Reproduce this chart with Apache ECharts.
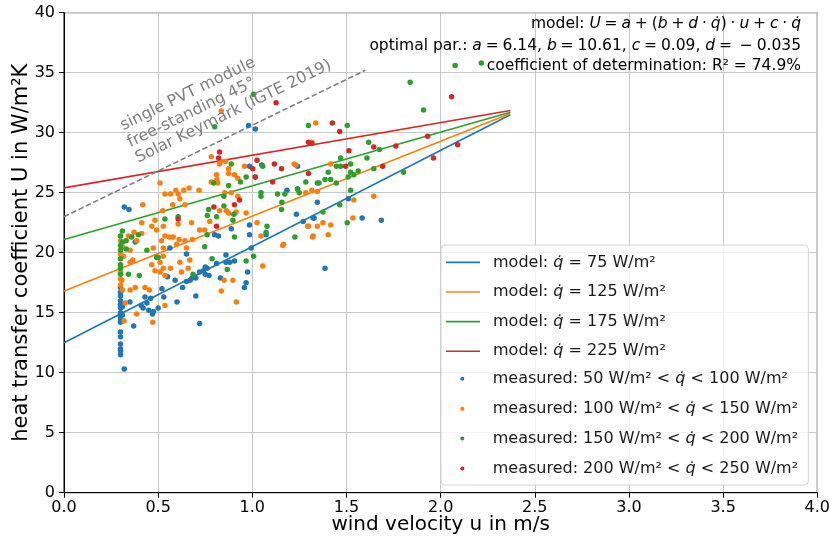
<!DOCTYPE html>
<html><head><meta charset="utf-8">
<script src="https://cdn.jsdelivr.net/npm/echarts/dist/echarts.min.js"></script>
<style>html,body{margin:0;padding:0;background:#fff}#c{width:830px;height:541px}</style>
</head><body><div id="c"></div>
<script>
// ---------- data ----------
const xAxisName = 'wind velocity u in m/s';
const yAxisName = 'heat transfer coefficient U in W/m\u00b2K';

const modelNames = [
  'model: q\u0307 = 75 W/m\u00b2',
  'model: q\u0307 = 125 W/m\u00b2',
  'model: q\u0307 = 175 W/m\u00b2',
  'model: q\u0307 = 225 W/m\u00b2'
];
const measNames = [
  'measured: 50 W/m\u00b2 < q\u0307 < 100 W/m\u00b2',
  'measured: 100 W/m\u00b2 < q\u0307 < 150 W/m\u00b2',
  'measured: 150 W/m\u00b2 < q\u0307 < 200 W/m\u00b2',
  'measured: 200 W/m\u00b2 < q\u0307 < 250 W/m\u00b2'
];

const modelQ75  = [[0, 12.5], [2.37, 31.5]];
const modelQ125 = [[0, 16.8], [2.37, 31.6]];
const modelQ175 = [[0, 21.1], [2.37, 31.7]];
const modelQ225 = [[0, 25.4], [2.37, 31.85]];
const keymarkLine = [[0, 23.0], [1.6, 35.2]];

const measQ50_100 = [
  [0.30,17.1],[0.30,16.7],[0.30,16.4],[0.30,16.0],[0.30,15.7],[0.30,15.4],[0.30,15.0],[0.30,14.7],
  [0.30,14.4],[0.30,14.2],[0.30,13.4],[0.30,13.0],[0.30,12.4],[0.30,12.0],[0.30,11.8],[0.30,11.5],
  [0.31,15.5],[0.31,14.8],[0.32,10.3],[0.32,23.8],[0.345,23.6],
  [0.35,15.9],[0.37,13.9],[0.43,16.3],[0.46,16.2],[0.44,15.8],[0.41,15.6],[0.42,15.4],[0.45,15.2],
  [0.47,14.9],[0.475,15.1],[0.50,15.4],[0.52,17.0],[0.53,16.3],[0.55,18.0],[0.59,17.7],[0.60,15.9],
  [0.63,17.1],[0.65,17.6],[0.67,17.7],[0.68,17.9],[0.70,17.9],[0.72,18.4],[0.74,18.5],[0.76,18.7],
  [0.70,16.4],[0.72,14.1],[0.75,18.8],[0.77,18.1],[0.75,18.2],[0.83,17.9],[0.81,19.1],[0.86,19.2],
  [0.88,19.2],[0.905,19.3],[0.86,19.8],[0.975,18.4],[0.967,17.5],[0.958,17.1],
  [0.985,27.2],[1.05,27.3],[1.184,25.2],[1.24,25.3],[0.888,22.0],[0.985,22.3],[0.80,21.5],[0.82,21.4],
  [0.985,21.5],[1.073,21.5],[1.27,22.6],[0.994,20.4],[1.24,27.2],[1.234,23.2],[1.345,24.2],[1.328,22.9],
  [1.51,24.5],[1.323,22.9],[1.583,22.9],[1.685,22.7],[1.386,18.7],[0.98,30.6],[1.016,30.3],
  [0.378,20.9],[0.562,20.4],[0.65,19.9]
];

const measQ100_150 = [
  [0.30,17.3],[0.30,17.8],[0.30,18.4],[0.30,18.9],[0.30,19.5],[0.30,19.9],[0.31,20.5],[0.30,21.0],[0.31,16.9],
  [0.325,15.8],[0.351,16.9],[0.378,17.1],[0.386,14.9],[0.43,17.1],[0.453,16.9],[0.466,19.0],[0.483,18.5],
  [0.51,19.2],[0.51,18.4],[0.527,18.7],[0.536,18.1],[0.566,18.7],[0.615,19.2],[0.624,18.4],[0.659,18.7],
  [0.668,19.4],[0.536,15.6],[0.471,14.2],[0.319,14.3],[0.307,17.7],[0.351,19.2],[0.365,19.4],
  [0.51,25.8],[0.536,24.9],[0.566,24.9],[0.594,25.2],[0.606,24.9],[0.636,25.2],[0.664,25.4],[0.717,25.2],
  [0.615,24.5],[0.577,24.0],[0.418,24.0],[0.524,23.5],[0.413,22.5],[0.483,22.7],[0.466,22.2],[0.527,22.2],
  [0.492,21.9],[0.606,22.4],[0.372,21.7],[0.413,21.6],[0.342,21.4],[0.386,21.0],[0.518,21.0],[0.536,21.4],
  [0.559,21.3],[0.58,21.3],[0.611,21.1],[0.642,21.0],[0.598,20.7],[0.527,20.4],[0.474,20.4],[0.65,20.4],
  [0.682,21.1],[0.72,21.9],[0.351,20.2],[0.316,19.7],[0.527,19.7],[0.677,22.5],[0.642,24.0],
  [0.85,17.7],[0.897,17.7],[0.835,16.8],[0.915,15.9],[1.055,18.9],
  [0.782,28.0],[0.826,27.4],[0.81,26.5],[0.874,27.0],[0.874,26.6],[0.905,26.5],[0.923,26.2],[0.782,25.9],
  [0.817,25.8],[0.853,25.0],[0.888,25.0],[0.923,24.7],[0.826,23.5],[0.862,23.5],[0.874,23.3],[0.914,23.4],
  [0.774,22.6],[0.967,23.3],[1.025,22.5],[0.958,27.2],[1.222,27.4],[1.166,20.7],[1.046,21.4],[0.747,21.9],
  [1.231,27.3],[1.161,20.6],[1.293,22.2],[1.319,21.3],[1.345,25.1],[0.812,26.1],[0.83,27.6],[0.858,27.6],
  [1.337,30.8],[1.316,29.2],[1.416,27.4],[1.284,25.0],[1.316,25.2],[1.539,24.4],[1.645,24.7],[1.534,22.9],
  [1.298,22.2],[1.345,22.2],[1.375,22.5],[1.416,22.3],[1.323,21.4],[1.403,21.5],[0.835,31.8]
];

const measQ150_200 = [
  [0.30,18.2],[0.30,18.7],[0.30,19.0],[0.30,19.5],[0.30,20.2],[0.30,20.6],[0.31,21.8],[0.31,20.9],[0.30,21.4],
  [0.342,18.2],[0.40,18.1],[0.50,19.6],[0.685,18.2],[0.33,21.0],[0.36,21.3],[0.395,21.5],[0.33,20.3],
  [0.44,20.2],[0.492,19.6],[0.606,23.0],[0.536,22.8],[0.76,21.5],
  [0.786,19.5],[0.867,18.6],[0.967,19.3],[1.007,19.7],
  [0.888,27.4],[0.937,25.9],[0.967,26.3],[1.015,26.3],[0.874,25.6],[0.849,24.7],[1.046,25.0],[1.046,24.7],
  [1.134,24.9],[1.173,24.9],[1.249,25.0],[1.155,23.6],[0.768,23.6],[0.849,23.9],[0.761,23.1],[0.902,23.2],
  [0.81,23.0],[1.078,22.2],[1.073,21.7],[0.905,21.3],[1.226,21.3],
  [1.055,27.2],[1.284,25.9],[1.345,25.8],[1.24,25.3],[1.157,24.2],[0.795,25.8],[0.897,22.7],[0.747,20.5],
  [1.838,34.2],[1.909,31.9],[1.298,30.6],[1.504,30.6],[1.618,29.2],[1.675,28.6],[1.609,27.9],[1.469,27.9],
  [1.446,27.2],[1.469,27.2],[1.522,27.4],[1.522,26.7],[1.539,26.5],[1.562,26.8],[1.509,26.3],[1.645,27.0],
  [1.803,26.7],[1.403,26.7],[1.386,26.1],[1.416,26.1],[1.446,25.8],[1.354,25.8],[1.522,25.2],[1.464,24.0],
  [1.375,23.4],[1.504,22.5],[0.80,30.5],[1.006,33.2],[2.077,35.6],[2.216,35.8]
];

const measQ200_250 = [
  [0.821,27.9],[0.826,28.4],[1.025,27.7],[1.117,27.4],[1.155,27.0],[1.108,25.9],[0.796,23.8],[0.905,24.0],
  [0.932,24.4],[0.81,22.2],[1.002,27.0],[1.016,26.3],[0.606,22.8],[1.298,29.2],[1.316,29.1],[1.425,30.8],
  [1.464,30.1],[1.513,28.5],[1.645,28.8],[1.762,28.9],[1.931,29.7],[1.962,27.9],[1.495,27.2],[1.692,27.2],
  [1.298,26.6],[2.058,33.0],[2.09,29.0],[1.126,32.5]
];

const annotationLines = ['single PVT module', 'free-standing 45\u00b0', 'Solar Keymark (IGTE 2019)'];
const S = '\u2005';
const infoLines = [
  'model: {i|U}' + S + '=' + S + '{i|a}' + S + '+' + S + '({i|b}' + S + '+' + S + '{i|d}' + S + '\u00b7' + S +
    '{i|q\u0307})' + S + '\u00b7' + S + '{i|u}' + S + '+' + S + '{i|c}' + S + '\u00b7' + S + '{i|q\u0307}',
  'optimal par.: {i|a}' + S + '=' + S + '6.14, {i|b}' + S + '=' + S + '10.61, {i|c}' + S + '=' + S +
    '0.09, {i|d}' + S + '=' + S + S + '\u2212' + S + '0.035',
  'coefficient of determination: R\u00b2 = 74.9%'
];

// ---------- chart ----------
const FONT = 'DejaVu Sans, sans-serif';
const colors = ['#1f77b4', '#ff7f0e', '#2ca02c', '#d62728'];
const chart = echarts.init(document.getElementById('c'), null, {renderer: 'canvas'});

const modelData = [modelQ75, modelQ125, modelQ175, modelQ225];
const measData = [measQ50_100, measQ100_150, measQ150_200, measQ200_250];

const series = [];
modelData.forEach((d, i) => series.push({
  name: modelNames[i], type: 'line', data: d, symbol: 'none', showSymbol: false,
  lineStyle: {color: colors[i], width: 1.6}, itemStyle: {color: colors[i]}, z: 2
}));
series.push({
  name: 'keymark', type: 'line', data: keymarkLine, symbol: 'none',
  lineStyle: {color: '#808080', width: 1.6, type: [5.5, 2.6]}, z: 2
});
measData.forEach((d, i) => series.push({
  name: measNames[i], type: 'scatter', data: d, symbol: 'circle', symbolSize: 5.5,
  itemStyle: {color: colors[i], opacity: 1}, z: 3
}));

const legendFmt = n => n.replace('q\u0307', '{i|q\u0307}');
const legendText = {fontFamily: FONT, fontSize: 16, color: '#1a1a1a', lineHeight: 14,
  rich: {i: {fontFamily: FONT, fontSize: 16, fontStyle: 'italic', lineHeight: 14, color: '#1a1a1a'}}};

const rot = 26 * Math.PI / 180;
const annPos = [[121.5, 126.5], [128.5, 143.5], [136.5, 159]];
const infoY = [24, 46, 66];

const graphics = [{
  type: 'rect', shape: {x: 441, y: 245, width: 367.3, height: 240, r: 4}, z: 5,
  style: {fill: 'rgba(255,255,255,0.8)', stroke: '#d4d4d4', lineWidth: 1}
}];
annotationLines.forEach((t, i) => graphics.push({
  type: 'text', x: annPos[i][0], y: annPos[i][1], rotation: rot, z: 5,
  style: {text: t, fontFamily: FONT, fontSize: 16, fill: '#808080', align: 'left', verticalAlign: 'middle'}
}));
infoLines.forEach((t, i) => graphics.push({
  type: 'text', x: 801, y: infoY[i], z: 5,
  style: {text: t, fontFamily: FONT, fontSize: 15.5, fill: '#000', align: 'right', verticalAlign: 'middle',
    rich: {i: {fontFamily: FONT, fontSize: 15.5, fontStyle: 'italic', fill: '#000'}}}
}));

chart.setOption({
  animation: false,
  backgroundColor: '#fff',
  grid: {left: 64, right: 12.7, top: 12.7, bottom: 48.3, containLabel: false, outerBoundsMode: 'none',
    show: true, borderColor: '#000', borderWidth: 1},
  xAxis: {
    type: 'value', min: 0, max: 4, interval: 0.5,
    name: xAxisName, nameLocation: 'middle', nameGap: 22, nameMoveOverlap: false,
    nameTextStyle: {fontFamily: FONT, fontSize: 20, color: '#000'},
    axisLine: {show: true, onZero: false, lineStyle: {color: '#000', width: 1}},
    axisTick: {show: true, length: 5, lineStyle: {color: '#000'}},
    axisLabel: {fontFamily: FONT, fontSize: 16, color: '#000', margin: 7, formatter: v => v.toFixed(1)},
    splitLine: {show: true, lineStyle: {color: '#c8c8c8', width: 1}}
  },
  yAxis: {
    type: 'value', min: 0, max: 40, interval: 5,
    name: yAxisName, nameLocation: 'middle', nameGap: 32, nameMoveOverlap: false,
    nameTextStyle: {fontFamily: FONT, fontSize: 21, color: '#000'},
    axisLine: {show: true, onZero: false, lineStyle: {color: '#000', width: 1}},
    axisTick: {show: true, length: 5, lineStyle: {color: '#000'}},
    axisLabel: {fontFamily: FONT, fontSize: 16, color: '#000', margin: 9},
    splitLine: {show: true, lineStyle: {color: '#c8c8c8', width: 1}}
  },
  legend: [
    {orient: 'vertical', left: 446, top: 254.4, padding: 0, itemWidth: 34, itemHeight: 1.6, itemGap: 13.6,
     icon: 'rect', formatter: legendFmt, selectedMode: false, z: 6,
     textStyle: Object.assign({padding: [0, 0, 0, 8]}, legendText),
     data: modelNames.map((n, i) => ({name: n, icon: 'rect', itemStyle: {color: colors[i]}}))},
    {orient: 'vertical', left: 460.3, top: 370.8, padding: 0, itemWidth: 4, itemHeight: 4, itemGap: 13.9,
     icon: 'circle', formatter: legendFmt, selectedMode: false, z: 6,
     textStyle: Object.assign({padding: [0, 0, 0, 23.4]}, legendText),
     data: measNames.map(n => ({name: n, icon: 'circle'}))}
  ],
  graphic: graphics,
  series: series
});
</script></body></html>
